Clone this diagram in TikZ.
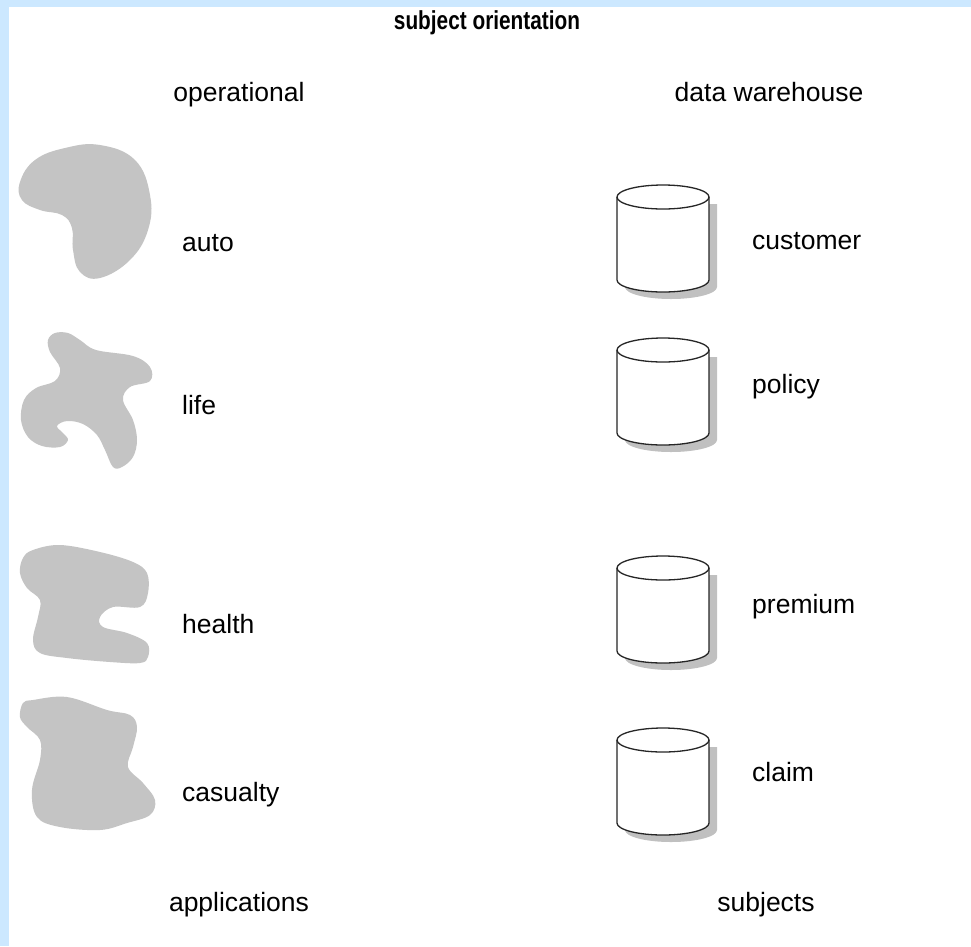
\documentclass[tikz,border=0pt]{standalone}
\usepackage{fontspec}
\setmainfont{Liberation Sans}
\newfontfamily\titlefont[FakeStretch=0.8]{Liberation Sans}
\definecolor{framebl}{HTML}{CCE8FF}
\definecolor{blobgray}{HTML}{C4C4C4}
\definecolor{shadowgray}{HTML}{C0C0C0}
\newcommand{\mycyl}[2]{%
  % #1 = name, #2 = top ellipse centre y
  \coordinate (#1) at (663,#2);
  \fill[shadowgray] (625,#2+7) -- (625,#2+90) arc (180:0:46 and 12) -- (717,#2+7) -- cycle;
  \draw[cylline,fill=white] (617,#2) -- (617,#2+83) arc (180:0:46 and 12) -- (709,#2);
  \draw[cylline,fill=white] (663,#2) ellipse (46 and 12);
}
\begin{document}
\begin{tikzpicture}[x=1pt,y=-1pt,
  lbl/.style={inner sep=0pt,font=\fontsize{26.5}{30}\selectfont,text=black},
  ttl/.style={inner sep=0pt,font=\titlefont\fontsize{26}{30}\selectfont\bfseries,text=black},
  blob/.style={fill=blobgray},
  cylline/.style={line width=1.3pt,draw=black!85}]
\useasboundingbox (0,0) rectangle (971,946);
\fill[framebl] (0,0) rectangle (971,946);
\fill[white] (9,7) rectangle (971,946);

\node[ttl,anchor=mid] (title) at (487,27) {subject orientation};
\node[lbl,anchor=mid] (oper) at (239,99) {operational};
\node[lbl,anchor=mid] (dwh) at (769,99) {data warehouse};
\node[lbl,anchor=mid] (apps) at (239,909) {applications};
\node[lbl,anchor=mid] (subj) at (766,909) {subjects};

% blobs
\fill[blob] plot[smooth cycle,tension=0.7] coordinates {(100,145) (135,160) (150,195) (148,230) (130,260) (100,278) (80,272) (73,250) (72,228) (62,215) (40,210) (22,200) (20,182) (35,160) (65,148)};
\fill[blob] plot[smooth cycle,tension=0.6] coordinates {(113,467) (105,450) (97,435) (83,424) (67,421) (57,426) (63,433) (68,440) (60,447) (42,446) (28,437) (21,420) (24,400) (36,388) (55,381) (60,368) (50,352) (48,340) (55,333) (68,333) (80,340) (96,350) (133,356) (150,367) (150,381) (130,387) (123,400) (133,420) (137,440) (133,457) (122,467)};
\fill[blob] plot[smooth cycle,tension=0.6] coordinates {(33,550) (60,545) (100,552) (133,562) (147,573) (148,593) (140,607) (113,607) (100,617) (103,627) (127,633) (147,643) (148,657) (140,663) (110,662) (67,658) (40,653) (33,640) (38,617) (40,600) (27,588) (20,573) (23,558)};
\fill[blob] plot[smooth cycle,tension=0.6] coordinates {(33,700) (67,697) (107,710) (130,715) (137,727) (133,747) (128,767) (143,783) (155,800) (150,815) (127,823) (100,830) (60,827) (37,817) (32,790) (40,760) (40,740) (27,727) (20,717) (23,703)};

\node[lbl,anchor=mid west] (auto) at (182,249) {auto};
\node[lbl,anchor=mid west] (life) at (182,412) {life};
\node[lbl,anchor=mid west] (health) at (182,631) {health};
\node[lbl,anchor=mid west] (casualty) at (182,799) {casualty};

% cylinders
\mycyl{cylA}{197}
\mycyl{cylB}{350}
\mycyl{cylC}{568}
\mycyl{cylD}{740}

\node[lbl,anchor=mid west] (customer) at (752,247) {customer};
\node[lbl,anchor=mid west] (policy) at (752,391) {policy};
\node[lbl,anchor=mid west] (premium) at (752,611) {premium};
\node[lbl,anchor=mid west] (claim) at (752,779) {claim};
\end{tikzpicture}
\end{document}
